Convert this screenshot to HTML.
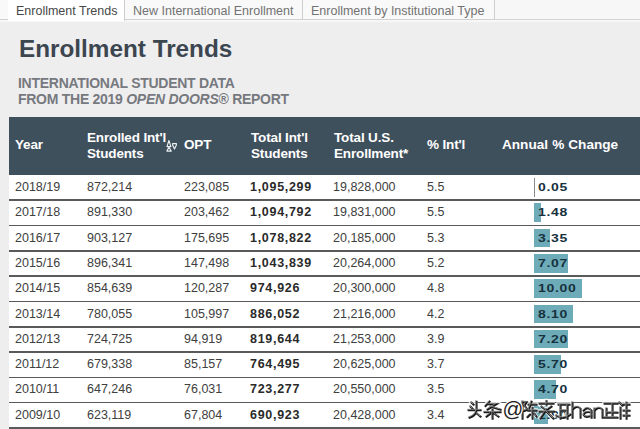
<!DOCTYPE html>
<html><head><meta charset="utf-8">
<style>
*{margin:0;padding:0;box-sizing:border-box}
html,body{width:640px;height:429px;overflow:hidden;background:#efeeef;font-family:"Liberation Sans",sans-serif}
.tabs{position:absolute;left:0;top:0;width:640px;height:22px;background:#f7f7f7}
.tab{position:absolute;top:0;height:20px;font-size:12.5px;line-height:20px;color:#727272;white-space:nowrap;border-right:1px solid #cfcfcf;border-bottom:1px solid #d2d2d2;padding-left:8px;padding-top:1px;background:#f9f9f9}
.tab.active{background:#fff;color:#474747;border-bottom:none;height:21px}
.title{position:absolute;left:19px;top:35.3px;font-size:24.3px;font-weight:bold;color:#3c4650;white-space:nowrap}
.sub{position:absolute;left:18px;font-size:14px;letter-spacing:-0.27px;font-weight:bold;color:#76797e;white-space:nowrap}
.hdr{position:absolute;left:9px;top:117px;width:631px;height:58px;background:#3f505d}
.h{position:absolute;color:#fff;font-weight:bold;font-size:13.5px;letter-spacing:-0.15px;line-height:16.3px;white-space:nowrap}
.rows{position:absolute;left:9px;top:175px;width:631px}
.row{position:absolute;left:0;width:631px;height:25.31px}
.rows{background:#fff;height:254px}
.dv{position:absolute;left:0;width:631px;height:1.6px;background:#5a5a5a;z-index:30}
.c{position:absolute;top:0;line-height:24px;font-size:12.5px;color:#404040;white-space:nowrap}
.b{font-weight:bold;letter-spacing:0.7px;color:#2a2a2a}
.bar.zero{width:1px;background:#888;left:525px}
.bar{position:absolute;left:525px;top:3px;height:18.6px;background:#6eabb8}
.pc{position:absolute;left:529px;top:0px;line-height:24px;font-size:14px;font-weight:bold;color:#16313d;letter-spacing:0.7px;white-space:nowrap;transform:scaleY(0.83);transform-origin:0 12.5px}
</style></head><body>
<div class="tabs"><div style="position:absolute;left:495px;top:0;width:145px;height:20px;border-bottom:1px solid #d2d2d2;background:#f7f7f7"></div>
  <div class="tab" style="left:0;width:8px"></div>
  <div class="tab active" style="left:8px;width:117px">Enrollment Trends</div>
  <div class="tab" style="left:125px;width:178px">New International Enrollment</div>
  <div class="tab" style="left:303px;width:192px">Enrollment by Institutional Type</div>
</div>
<div class="title">Enrollment Trends</div>
<div class="sub" style="top:75px">INTERNATIONAL STUDENT DATA</div>
<div class="sub" style="top:90.5px">FROM THE 2019 <i>OPEN DOORS</i>® REPORT</div>
<div class="hdr">
  <div class="h" style="left:6px;top:20.4px">Year</div>
  <div class="h" style="left:78px;top:12.6px">Enrolled Int'l<br>Students</div>
  <svg style="position:absolute;left:157px;top:22px" width="14" height="14" viewBox="0 0 14 14" fill="none" stroke="#eef1f3" stroke-width="1.1" stroke-linejoin="round">
<path d="M1 7.6 L2.9 1.5 L4.9 7.6 Z"/>
<path d="M2.9 8.3 L0.9 12.1 H5.3 Z"/>
<path d="M6.6 4.6 H10.4 V5.9 L8.5 10.1 L6.6 5.9 Z"/>
</svg>
<div class="h" style="left:175px;top:20.4px">OPT</div>
  <div class="h" style="left:242px;top:12.6px">Total Int'l<br>Students</div>
  <div class="h" style="left:325px;top:12.6px">Total U.S.<br>Enrollment*</div>
  <div class="h" style="left:418px;top:20.4px">% Int'l</div>
  <div class="h" style="left:493px;top:20.4px;font-size:13.6px;letter-spacing:0;word-spacing:0.3px">Annual % Change</div>
</div>
<div class="rows">
<div class="row" style="top:0.00px;z-index:20">
<span class="c" style="left:6px">2018/19</span>
<span class="c" style="left:78px">872,214</span>
<span class="c" style="left:175px">223,085</span>
<span class="c b" style="left:241px">1,095,299</span>
<span class="c" style="left:324px">19,828,000</span>
<span class="c" style="left:418px">5.5</span>
<div class="bar zero"></div>
<span class="pc">0.05</span>
</div>
<div class="dv" style="top:24.41px"></div>
<div class="row" style="top:25.31px;z-index:19">
<span class="c" style="left:6px">2017/18</span>
<span class="c" style="left:78px">891,330</span>
<span class="c" style="left:175px">203,462</span>
<span class="c b" style="left:241px">1,094,792</span>
<span class="c" style="left:324px">19,831,000</span>
<span class="c" style="left:418px">5.5</span>
<div class="bar" style="width:7.0px"></div>
<span class="pc">1.48</span>
</div>
<div class="dv" style="top:49.72px"></div>
<div class="row" style="top:50.62px;z-index:18">
<span class="c" style="left:6px">2016/17</span>
<span class="c" style="left:78px">903,127</span>
<span class="c" style="left:175px">175,695</span>
<span class="c b" style="left:241px">1,078,822</span>
<span class="c" style="left:324px">20,185,000</span>
<span class="c" style="left:418px">5.3</span>
<div class="bar" style="width:15.9px"></div>
<span class="pc">3.35</span>
</div>
<div class="dv" style="top:75.03px"></div>
<div class="row" style="top:75.93px;z-index:17">
<span class="c" style="left:6px">2015/16</span>
<span class="c" style="left:78px">896,341</span>
<span class="c" style="left:175px">147,498</span>
<span class="c b" style="left:241px">1,043,839</span>
<span class="c" style="left:324px">20,264,000</span>
<span class="c" style="left:418px">5.2</span>
<div class="bar" style="width:33.6px"></div>
<span class="pc">7.07</span>
</div>
<div class="dv" style="top:100.34px"></div>
<div class="row" style="top:101.24px;z-index:16">
<span class="c" style="left:6px">2014/15</span>
<span class="c" style="left:78px">854,639</span>
<span class="c" style="left:175px">120,287</span>
<span class="c b" style="left:241px">974,926</span>
<span class="c" style="left:324px">20,300,000</span>
<span class="c" style="left:418px">4.8</span>
<div class="bar" style="width:47.5px"></div>
<span class="pc">10.00</span>
</div>
<div class="dv" style="top:125.65px"></div>
<div class="row" style="top:126.55px;z-index:15">
<span class="c" style="left:6px">2013/14</span>
<span class="c" style="left:78px">780,055</span>
<span class="c" style="left:175px">105,997</span>
<span class="c b" style="left:241px">886,052</span>
<span class="c" style="left:324px">21,216,000</span>
<span class="c" style="left:418px">4.2</span>
<div class="bar" style="width:38.5px"></div>
<span class="pc">8.10</span>
</div>
<div class="dv" style="top:150.96px"></div>
<div class="row" style="top:151.86px;z-index:14">
<span class="c" style="left:6px">2012/13</span>
<span class="c" style="left:78px">724,725</span>
<span class="c" style="left:175px">94,919</span>
<span class="c b" style="left:241px">819,644</span>
<span class="c" style="left:324px">21,253,000</span>
<span class="c" style="left:418px">3.9</span>
<div class="bar" style="width:34.2px"></div>
<span class="pc">7.20</span>
</div>
<div class="dv" style="top:176.27px"></div>
<div class="row" style="top:177.17px;z-index:13">
<span class="c" style="left:6px">2011/12</span>
<span class="c" style="left:78px">679,338</span>
<span class="c" style="left:175px">85,157</span>
<span class="c b" style="left:241px">764,495</span>
<span class="c" style="left:324px">20,625,000</span>
<span class="c" style="left:418px">3.7</span>
<div class="bar" style="width:27.1px"></div>
<span class="pc">5.70</span>
</div>
<div class="dv" style="top:201.58px"></div>
<div class="row" style="top:202.48px;z-index:12">
<span class="c" style="left:6px">2010/11</span>
<span class="c" style="left:78px">647,246</span>
<span class="c" style="left:175px">76,031</span>
<span class="c b" style="left:241px">723,277</span>
<span class="c" style="left:324px">20,550,000</span>
<span class="c" style="left:418px">3.5</span>
<div class="bar" style="width:22.3px"></div>
<span class="pc">4.70</span>
</div>
<div class="dv" style="top:226.89px"></div>
<div class="row" style="top:227.79px;z-index:11">
<span class="c" style="left:6px">2009/10</span>
<span class="c" style="left:78px">623,119</span>
<span class="c" style="left:175px">67,804</span>
<span class="c b" style="left:241px">690,923</span>
<span class="c" style="left:324px">20,428,000</span>
<span class="c" style="left:418px">3.4</span>
<div class="bar" style="width:13.8px"></div>
<span class="pc">2.90</span>
</div>
<div class="dv" style="top:252.20px"></div>
</div>
<svg style="position:absolute;left:0;top:0;z-index:50" width="640" height="429" viewBox="0 0 640 429">
<defs><path id="wmp" d="M471 402 l2 2 M470 406 l2 2 M468 409.5 H480 M476 401 V410 Q475 415 469 417 M476.5 413 l3.5 3
M489 401 L485 405.5 M488 403.5 H496 L487 409 M490 406 L500 409 M484 411.5 H500 M492 409 V418 M490 413 L486 416 M494 413 L498 416
M522 401 V418 M522 401.5 H526 L524 405 L527 409 L523 410.5 M528 404 H536 M531 401 L528 410 H536 M532 407 V418 M529.5 414 L527 416.5 M534 413 L536 416
M539 403 H553 M546 400.5 V404 M541 406 L545 409 M551 406 L547 409 M539 411 H554 M546 409 L540 418 M546 411 L553 418
M558 404 H569 M560 404 V418 M567 404 V418 M560 410 H567 M556 415 Q563 420 570 414
M572 402 V417 M572 409 Q576 404 580 408 V417 M583 410 Q587 405 591 410 V417 M591 412 Q585 410 583 414 Q585 418 591 415
M594 408 V417 M594 410 Q598 405 602 409 V417 M604 403 H617 M606 408 V417 M612 403 V417 M606 412 H617 M604 417 H617
M619 402 L622 405 M620 407 V418 M623 404 H629 M626 402 V418 M623 410 H629 M623 415 H629"/></defs>
<g fill="none" stroke-linecap="square">
<use href="#wmp" stroke="#ffffff" stroke-width="3.6" opacity="0.85"/>
<use href="#wmp" x="0.6" y="0.7" stroke="#1a1a1a" stroke-width="2"/>
<use href="#wmp" x="-0.2" y="-0.2" stroke="#8a8a8a" stroke-width="0.9"/>
</g>
<text x="502.5" y="416" font-family="Liberation Sans" font-size="20.5" fill="#222" stroke="#fff" stroke-width="2.4" paint-order="stroke">@</text>
</svg>
</body></html>
